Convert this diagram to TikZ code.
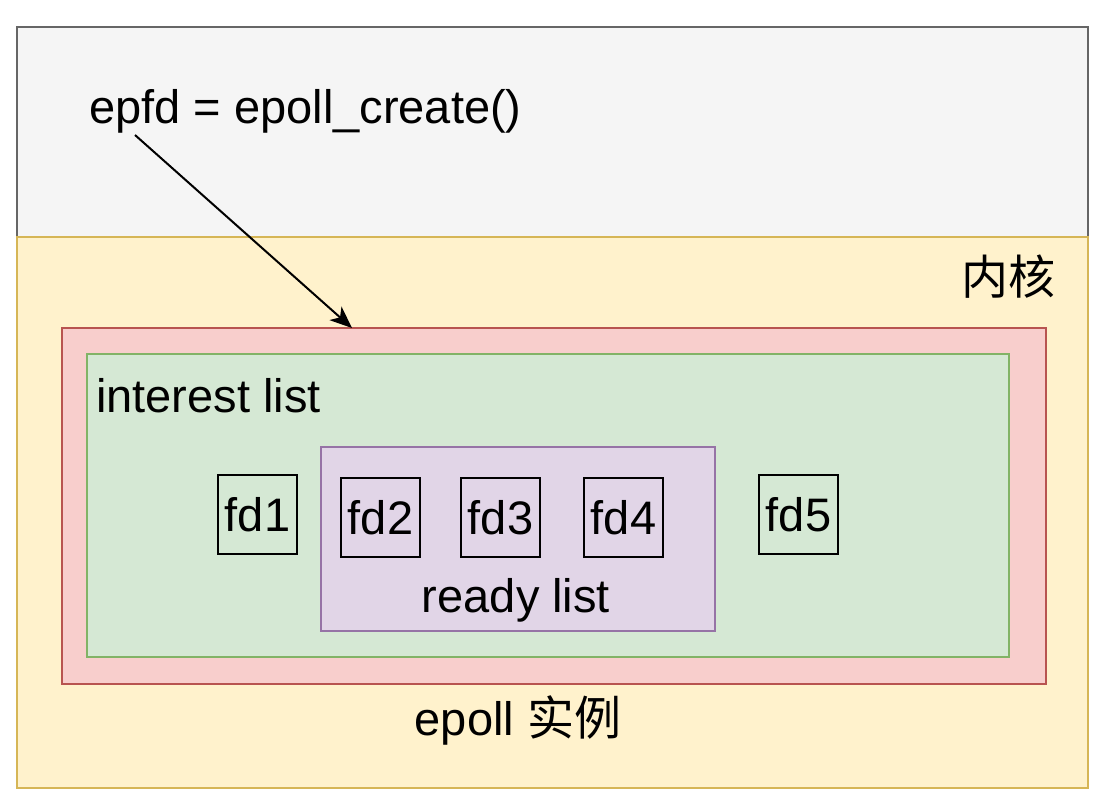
\documentclass[tikz,border=0pt]{standalone}
\usepackage{fontspec}
\setmainfont{Liberation Sans}
\newfontfamily\cjk{Noto Sans CJK SC}
\usetikzlibrary{arrows.meta,positioning}
\definecolor{grayfill}{HTML}{F5F5F5}
\definecolor{graydraw}{HTML}{666666}
\definecolor{yelfill}{HTML}{FFF2CC}
\definecolor{yeldraw}{HTML}{D6B656}
\definecolor{redfill}{HTML}{F8CECC}
\definecolor{reddraw}{HTML}{B85450}
\definecolor{grnfill}{HTML}{D5E8D4}
\definecolor{grndraw}{HTML}{82B366}
\definecolor{purfill}{HTML}{E1D5E7}
\definecolor{purdraw}{HTML}{9673A6}
\tikzset{
  region/.style={line width=2pt},
  fdbox/.style={draw=black, line width=2pt, minimum width=79pt, minimum height=79pt, inner sep=0pt, anchor=north west},
  lbl/.style={inner sep=0pt, font=\fontsize{47}{56}\selectfont},
  conn/.style={line width=2pt, -{Stealth[length=22pt,width=18pt,inset=6pt]}}
}
\begin{document}
\begin{tikzpicture}[x=1pt,y=-1pt]
\useasboundingbox (0,0) rectangle (1117,806);
% regions
\draw[region, fill=grayfill, draw=graydraw] (17,27) rectangle (1088,237);
\draw[region, fill=yelfill, draw=yeldraw] (17,237) rectangle (1088,788);
\draw[region, fill=redfill, draw=reddraw] (62,328) rectangle (1046,684);
\draw[region, fill=grnfill, draw=grndraw] (87,354) rectangle (1009,657);
\draw[region, fill=purfill, draw=purdraw] (321,447) rectangle (715,631);
% labels
\node[lbl, anchor=base west] (epfd) at (89,123) {epfd = epoll\_create()};
\node[lbl, anchor=base west] (interest) at (96,412) {interest list};
\node[lbl, anchor=base] (ready) at (516,612) {ready list};
\node[lbl, anchor=center] (kernel) at (1008,277) {\cjk 内核};
\node[lbl, anchor=base] (inst) at (518,735) {epoll {\cjk 实例}};
% fd boxes
\node[fdbox, lbl] (fd1) at (217,474) {fd1};
\node[fdbox, lbl] (fd2) at (340,477) {fd2};
\node[fdbox, lbl] (fd3) at (460,477) {fd3};
\node[fdbox, lbl] (fd4) at (583,477) {fd4};
\node[fdbox, lbl] (fd5) at (758,474) {fd5};
% arrow
\coordinate (arrStart) at (135,135);
\coordinate (arrEnd) at (352,328);
\draw[conn] (arrStart) -- (arrEnd);
\end{tikzpicture}
\end{document}
